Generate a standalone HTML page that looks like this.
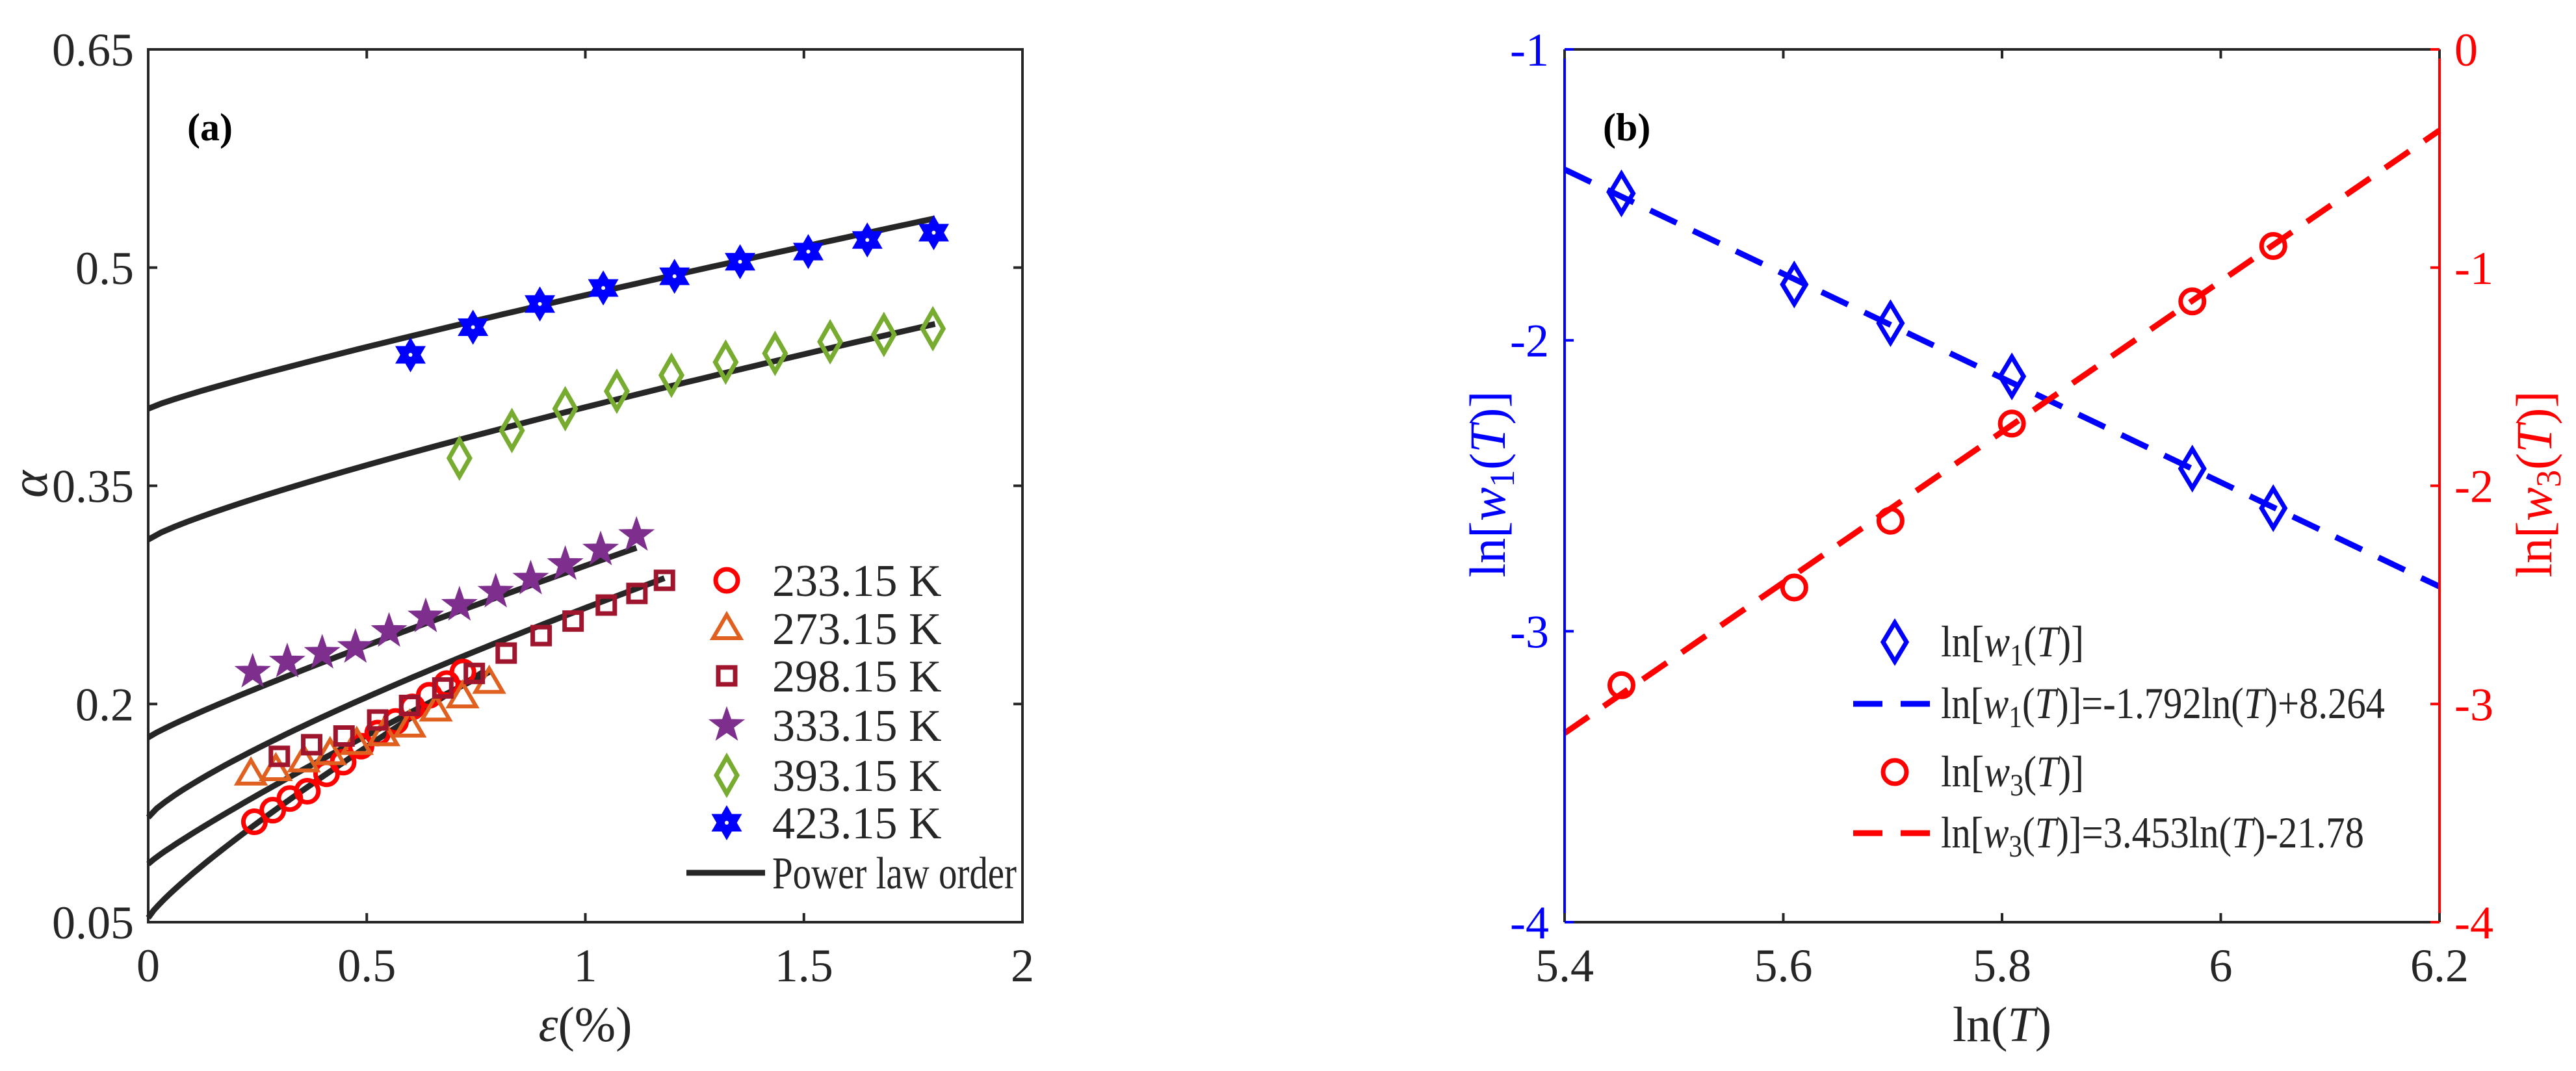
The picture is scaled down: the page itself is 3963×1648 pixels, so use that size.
<!DOCTYPE html>
<html><head><meta charset="utf-8"><style>
html,body{margin:0;padding:0;background:#fff;}
svg{display:block;font-family:"Liberation Serif",serif;}
</style></head><body>
<svg id="fig" width="3963" height="1648" viewBox="0 0 3963 1648" xmlns="http://www.w3.org/2000/svg"></svg>
<script>
// ---------- Panel (a) data ----------
const seriesA_names = ["233.15 K","273.15 K","298.15 K","333.15 K","393.15 K","423.15 K"];
const s233_x = [0.243,0.285,0.324,0.364,0.408,0.446,0.487,0.525,0.566,0.604,0.643,0.683,0.720];
const s233_y = [0.119,0.127,0.135,0.140,0.152,0.160,0.171,0.180,0.188,0.198,0.206,0.214,0.222];
const s273_x = [0.235,0.292,0.356,0.416,0.477,0.538,0.598,0.658,0.719,0.780];
const s273_y = [0.152,0.155,0.161,0.166,0.173,0.179,0.185,0.196,0.205,0.215];
const s298_x = [0.300,0.374,0.448,0.525,0.598,0.674,0.746,0.819,0.899,0.972,1.048,1.118,1.181];
const s298_y = [0.164,0.172,0.178,0.189,0.199,0.211,0.221,0.235,0.247,0.257,0.268,0.276,0.285];
const s333_x = [0.239,0.318,0.398,0.474,0.551,0.635,0.712,0.795,0.875,0.954,1.035,1.117];
const s333_y = [0.222,0.229,0.235,0.239,0.250,0.260,0.268,0.277,0.286,0.296,0.306,0.316];
const s393_x = [0.712,0.832,0.954,1.072,1.197,1.321,1.434,1.560,1.683,1.795];
const s393_y = [0.369,0.388,0.403,0.415,0.426,0.435,0.441,0.449,0.454,0.458];
const s423_x = [0.600,0.743,0.896,1.041,1.204,1.354,1.510,1.645,1.797];
const s423_y = [0.440,0.459,0.475,0.486,0.494,0.504,0.511,0.519,0.524];
// power-law fit parameters  y = a + b*x^c, for x in [0, xmax]
const fitA_a = [0.053,0.090,0.122,0.177,0.313,0.403];
const fitA_b = [0.212,0.165,0.144,0.118,0.091,0.078];
const fitA_c = [0.85,0.90,0.80,0.90,0.83,0.88];
const fitA_xmax = [0.77,0.78,1.181,1.117,1.80,1.80];
const xTicksA = [0,0.5,1,1.5,2];
const xTickLabelsA = ["0","0.5","1","1.5","2"];
const yTicksA = [0.05,0.2,0.35,0.5,0.65];
const yTickLabelsA = ["0.05","0.2","0.35","0.5","0.65"];
// ---------- Panel (b) data ----------
const lnT = [5.452,5.610,5.698,5.809,5.974,6.048];
const lnW1 = [-1.495,-1.808,-1.941,-2.124,-2.441,-2.577];
const lnW3 = [-2.914,-2.466,-2.160,-1.715,-1.155,-0.901];
const fitW1 = [-1.792,8.264];
const fitW3 = [3.453,-21.78];
const xTicksB = [5.4,5.6,5.8,6.0,6.2];
const xTickLabelsB = ["5.4","5.6","5.8","6","6.2"];
const yTicksBL = [-4,-3,-2,-1];
const yTicksBR = [-4,-3,-2,-1,0];

const NS="http://www.w3.org/2000/svg";
const svg=document.getElementById('fig');
function mk(tag,attrs,parent){const e=document.createElementNS(NS,tag);for(const k in attrs)e.setAttribute(k,attrs[k]);(parent||svg).appendChild(e);return e;}
const K="#262626";

// ---- Panel a scales
const AX0=228,AX1=1573,AY0=76,AY1=1419;
const ax=v=>AX0+(v-0)/(2-0)*(AX1-AX0);
const ay=v=>AY1-(v-0.05)/(0.65-0.05)*(AY1-AY0);

const gA=mk('g',{});



function markerShape(type,cx,cy,color,parent,big){
  let e;
  if(type==='circle'){e=mk('circle',{cx:cx,cy:cy,r:big?18:17,fill:'none',stroke:color,'stroke-width':7},parent);}
  else if(type==='tri'){e=mk('polygon',{points:`${cx},${cy-21} ${cx+21},${cy+15} ${cx-21},${cy+15}`,fill:'none',stroke:color,'stroke-width':6},parent);}
  else if(type==='square'){e=mk('rect',{x:cx-13,y:cy-13,width:26,height:26,fill:'none',stroke:color,'stroke-width':7},parent);}
  else if(type==='star'){let p=[];for(let i=0;i<10;i++){const r=i%2?10:25;const a=-Math.PI/2+i*Math.PI/5;p.push((cx+r*Math.cos(a)).toFixed(1)+','+(cy+r*Math.sin(a)).toFixed(1));}e=mk('polygon',{points:p.join(' '),fill:color,stroke:color,'stroke-width':3},parent);}
  else if(type==='diamond'){const w=big?18:16,h=big?30:28;e=mk('polygon',{points:`${cx},${cy-h} ${cx+w},${cy} ${cx},${cy+h} ${cx-w},${cy}`,fill:'none',stroke:color,'stroke-width':7},parent);}
  else if(type==='hex'){const g=mk('g',{},parent);const r=23;
    mk('polygon',{points:`${cx},${cy-r} ${cx+r*0.87},${cy+r/2} ${cx-r*0.87},${cy+r/2}`,fill:color,stroke:color,'stroke-width':4},g);
    mk('polygon',{points:`${cx},${cy+r} ${cx+r*0.87},${cy-r/2} ${cx-r*0.87},${cy-r/2}`,fill:color,stroke:color,'stroke-width':4},g);
    mk('circle',{cx:cx,cy:cy,r:3,fill:'#fff'},g);e=g;}
  return e;
}

// curves
for(let i=0;i<fitA_a.length;i++){
  let d='';
  for(let k=0;k<=60;k++){const x=fitA_xmax[i]*k/60;const y=fitA_a[i]+fitA_b[i]*Math.pow(x,fitA_c[i]);d+=(k?'L':'M')+ax(x).toFixed(1)+','+ay(y).toFixed(1);}
  const p=mk('path',{d:d,fill:'none',stroke:K,'stroke-width':9},gA);
  
  
}
const seriesA = [[s233_x,s233_y,'circle','#ff0000'],[s273_x,s273_y,'tri','#e06020'],[s298_x,s298_y,'square','#a0152e'],[s333_x,s333_y,'star','#7e2f8e'],[s393_x,s393_y,'diamond','#77ac30'],[s423_x,s423_y,'hex','#0000ff']];
seriesA.forEach((s,i)=>{
  const g=mk('g',{},gA);
  
  
  for(let j=0;j<s[0].length;j++){const m=markerShape(s[2],ax(s[0][j]),ay(s[1][j]),s[3],g);
    
    }
});
// axes box a
const boxA=mk('rect',{x:AX0,y:AY0,width:AX1-AX0,height:AY1-AY0,fill:'none',stroke:K,'stroke-width':4},gA);


xTicksA.forEach((v,i)=>{const x=ax(v);
  mk('line',{x1:x,y1:AY1,x2:x,y2:AY1-14,stroke:K,'stroke-width':4},gA);
  mk('line',{x1:x,y1:AY0,x2:x,y2:AY0+14,stroke:K,'stroke-width':4},gA);
  const t=mk('text',{x:x,y:1510,'font-size':72,'text-anchor':'middle',fill:K},gA);t.textContent=xTickLabelsA[i];
  
  
});
yTicksA.forEach((v,i)=>{const y=ay(v);
  mk('line',{x1:AX0,y1:y,x2:AX0+14,y2:y,stroke:K,'stroke-width':4},gA);
  mk('line',{x1:AX1,y1:y,x2:AX1-14,y2:y,stroke:K,'stroke-width':4},gA);
  const t=mk('text',{x:206,y:y+25,'font-size':72,'text-anchor':'end',fill:K},gA);t.textContent=yTickLabelsA[i];
  
  
});
let t=mk('text',{x:(AX0+AX1)/2,y:1602,'font-size':76,'text-anchor':'middle',fill:K},gA);
t.innerHTML='<tspan font-style="italic">ε</tspan>(%)';


t=mk('text',{x:0,y:0,'font-size':80,'text-anchor':'middle','font-style':'italic',fill:K,transform:'translate(72,745) rotate(-90)'},gA);
t.textContent='α';


t=mk('text',{x:288,y:216,'font-size':60,'font-weight':'bold',fill:'#000'},gA);t.textContent='(a)';


// legend a
const legYs=[893,967,1040,1116,1193,1266];
seriesA.forEach((s,i)=>{
  const g=mk('g',{},gA);
  
  
  markerShape(s[2],1118,legYs[i],s[3],g);
  const tt=mk('text',{x:1188,y:legYs[i]+24,'font-size':70,fill:K},g);tt.textContent=seriesA_names[i];
});
{const g=mk('g',{},gA);
 
 
 mk('line',{x1:1056,y1:1343,x2:1177,y2:1343,stroke:K,'stroke-width':9},g);
 const tt=mk('text',{x:1188,y:1367,'font-size':70,fill:K,textLength:376,lengthAdjust:'spacingAndGlyphs'},g);tt.textContent='Power law order';}

// ---- Panel b
const BX0=2407,BX1=3753,BY0=76,BY1=1419;
const bx=v=>BX0+(v-5.4)/(0.8)*(BX1-BX0);
const byL=v=>BY1-(v+4)/3*(BY1-BY0);
const byR=v=>BY1-(v+4)/4*(BY1-BY0);
const gB=mk('g',{});


const BLUE='#0000ff',RED='#ff0000';
let l=mk('line',{x1:bx(5.4),y1:byL(fitW1[0]*5.4+fitW1[1]),x2:bx(6.2),y2:byL(fitW1[0]*6.2+fitW1[1]),stroke:BLUE,'stroke-width':9,'stroke-dasharray':'45 28'},gB);


l=mk('line',{x1:bx(5.4),y1:byR(fitW3[0]*5.4+fitW3[1]),x2:bx(6.2),y2:byR(fitW3[0]*6.2+fitW3[1]),stroke:RED,'stroke-width':9,'stroke-dasharray':'45 28'},gB);


for(let j=0;j<lnT.length;j++){
  const d=markerShape('diamond',bx(lnT[j]),byL(lnW1[j]),BLUE,gB,true);
  
  
  const c=markerShape('circle',bx(lnT[j]),byR(lnW3[j]),RED,gB,true);
  
  
}
mk('line',{x1:BX0,y1:BY0,x2:BX1,y2:BY0,stroke:K,'stroke-width':4},gB);
mk('line',{x1:BX0,y1:BY1,x2:BX1,y2:BY1,stroke:K,'stroke-width':4},gB);
l=mk('line',{x1:BX0,y1:BY0,x2:BX0,y2:BY1,stroke:BLUE,'stroke-width':4},gB);


l=mk('line',{x1:BX1,y1:BY0,x2:BX1,y2:BY1,stroke:RED,'stroke-width':4},gB);


xTicksB.forEach((v,i)=>{const x=bx(v);
  mk('line',{x1:x,y1:BY1,x2:x,y2:BY1-14,stroke:K,'stroke-width':4},gB);
  mk('line',{x1:x,y1:BY0,x2:x,y2:BY0+14,stroke:K,'stroke-width':4},gB);
  const tt=mk('text',{x:x,y:1510,'font-size':72,'text-anchor':'middle',fill:K},gB);tt.textContent=xTickLabelsB[i];
  
  
});
yTicksBL.forEach(v=>{const y=byL(v);
  mk('line',{x1:BX0,y1:y,x2:BX0+14,y2:y,stroke:BLUE,'stroke-width':4},gB);
  const tt=mk('text',{x:2383,y:y+25,'font-size':72,'text-anchor':'end',fill:BLUE},gB);tt.textContent=String(v);
  
  
});
yTicksBR.forEach(v=>{const y=byR(v);
  mk('line',{x1:BX1,y1:y,x2:BX1-14,y2:y,stroke:RED,'stroke-width':4},gB);
  const tt=mk('text',{x:3776,y:y+25,'font-size':72,'text-anchor':'start',fill:RED},gB);tt.textContent=String(v);
  
  
});
t=mk('text',{x:(BX0+BX1)/2,y:1602,'font-size':76,'text-anchor':'middle',fill:K},gB);
t.innerHTML='ln(<tspan font-style="italic">T</tspan>)';


t=mk('text',{x:0,y:0,'font-size':78,'text-anchor':'middle',fill:BLUE,transform:'translate(2315,745) rotate(-90)'},gB);
t.innerHTML='ln[<tspan font-style="italic">w</tspan><tspan font-size="54" dy="14">1</tspan><tspan dy="-14">(</tspan><tspan font-style="italic">T</tspan>)]';


t=mk('text',{x:0,y:0,'font-size':78,'text-anchor':'middle',fill:RED,transform:'translate(3925,745) rotate(-90)'},gB);
t.innerHTML='ln[<tspan font-style="italic">w</tspan><tspan font-size="54" dy="14">3</tspan><tspan dy="-14">(</tspan><tspan font-style="italic">T</tspan>)]';


t=mk('text',{x:2466,y:216,'font-size':60,'font-weight':'bold',fill:'#000'},gB);t.textContent='(b)';


// legend b
const legB=[[988,'diamond',BLUE,'1','',220],[1083,'line',BLUE,'1','=-1.792ln(<tspan font-style="italic">T</tspan>)+8.264',683],[1188,'circle',RED,'3','',220],[1282,'line',RED,'3','=3.453ln(<tspan font-style="italic">T</tspan>)-21.78',651]];
legB.forEach(r=>{
  const g=mk('g',{},gB);
  
  
  if(r[1]==='line')mk('line',{x1:2851,y1:r[0],x2:2975,y2:r[0],stroke:r[2],'stroke-width':9,'stroke-dasharray':'45 28'},g);
  else markerShape(r[1],2915,r[0],r[2],g,true);
  const tt=mk('text',{x:2986,y:r[0]+22,'font-size':68,fill:K,textLength:r[5],lengthAdjust:'spacingAndGlyphs'},g);
  tt.innerHTML='ln[<tspan font-style="italic">w</tspan><tspan font-size="48" dy="14">'+r[3]+'</tspan><tspan dy="-14">(</tspan><tspan font-style="italic">T</tspan>)]'+r[4];
});
</script>
</body></html>
